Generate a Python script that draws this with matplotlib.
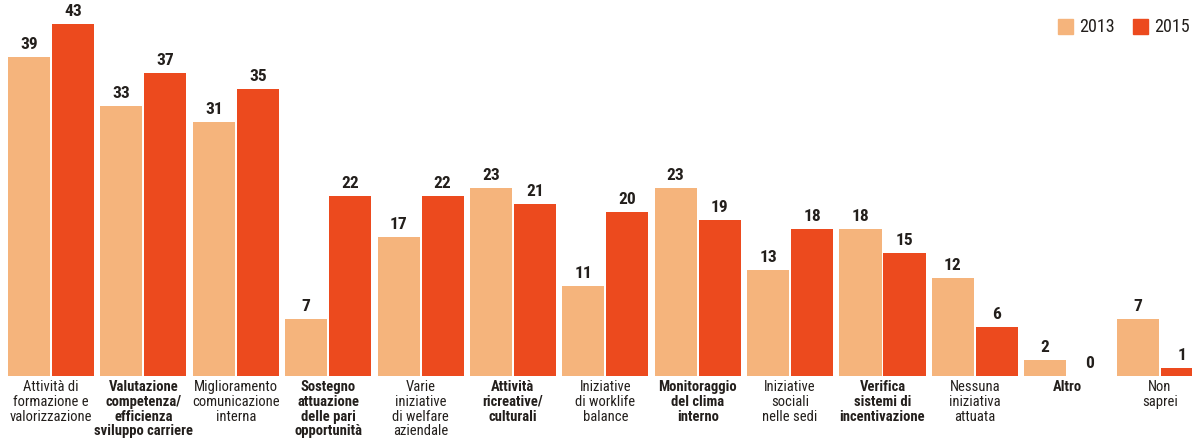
import matplotlib
matplotlib.use("Agg")
import matplotlib.pyplot as plt
import matplotlib.transforms as mtransforms
from matplotlib.patches import Rectangle

categories = [
    "Attività di\nformazione e\nvalorizzazione",
    "Valutazione\ncompetenza/\nefficienza\nsviluppo carriere",
    "Miglioramento\ncomunicazione\ninterna",
    "Sostegno\nattuazione\ndelle pari\nopportunità",
    "Varie\niniziative\ndi welfare\naziendale",
    "Attività\nricreative/\nculturali",
    "Iniziative\ndi worklife\nbalance",
    "Monitoraggio\ndel clima\ninterno",
    "Iniziative\nsociali\nnelle sedi",
    "Verifica\nsistemi di\nincentivazione",
    "Nessuna\niniziativa\nattuata",
    "Altro",
    "Non\nsaprei",
]
bold_flags = [False, True, False, True, False, True, False, True, False, True, False, True, False]
values_2013 = [39, 33, 31, 7, 17, 23, 11, 23, 13, 18, 12, 2, 7]
values_2015 = [43, 37, 35, 22, 22, 21, 20, 19, 18, 15, 6, 0, 1]
series_labels = ["2013", "2015"]

c2013 = "#F5B47C"
c2015 = "#EC4A1E"
txt = "#231f1c"
label_font = ["Roboto Condensed", "Liberation Sans Narrow", "Liberation Sans", "DejaVu Sans"]

fig = plt.figure(figsize=(11.92, 4.41), dpi=100)
ax = fig.add_axes([0, 65 / 441, 1, 376 / 441])
ax.set_xlim(-0.552, 12.35)
ax.set_ylim(0, 45.9)
ax.axis("off")

w = 0.455
off = 0.238
x = list(range(len(categories)))
ax.bar([i - off for i in x], values_2013, width=w, color=c2013, zorder=2)
ax.bar([i + off for i in x], values_2015, width=w, color=c2015, zorder=2)

for i in x:
    ax.annotate(str(values_2013[i]), (i - off, values_2013[i]), xytext=(0, 3.5),
                textcoords="offset points", ha="center", va="bottom",
                fontsize=12.5, fontweight="bold", color=txt, family=label_font)
    ax.annotate(str(values_2015[i]), (i + off, values_2015[i]), xytext=(0, 3.5),
                textcoords="offset points", ha="center", va="bottom",
                fontsize=12.5, fontweight="bold", color=txt, family=label_font)

trans = mtransforms.blended_transform_factory(ax.transData, ax.transAxes)
for i, (lab, b) in enumerate(zip(categories, bold_flags)):
    ax.text(i, -0.010, lab, transform=trans, ha="center", va="top",
            fontsize=10.5, fontweight="bold" if b else "normal",
            color=txt, family=label_font, linespacing=1.08, clip_on=False)

# legend
legend_items = [(1058, c2013, series_labels[0]), (1133, c2015, series_labels[1])]
for px, col, lab in legend_items:
    fig.patches.append(Rectangle((px / 1192, 1 - 34 / 441), 15 / 1192, 15 / 441,
                                 transform=fig.transFigure, color=col))
    fig.text((px + 21) / 1192, 1 - 27 / 441, lab, ha="left", va="center",
             fontsize=13, color=txt, family=label_font)

fig.savefig("out.png", dpi=100, facecolor="white")
